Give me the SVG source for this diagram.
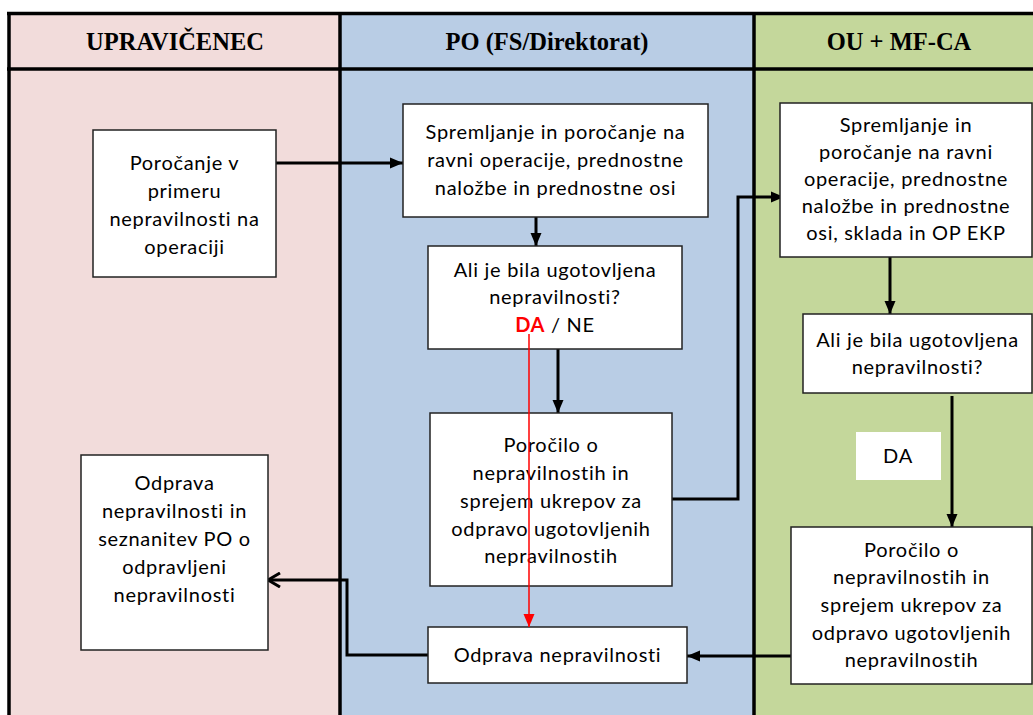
<svg xmlns="http://www.w3.org/2000/svg" width="1033" height="715" viewBox="0 0 1033 715">
<style>
.hdr{font-family:"Liberation Serif","Times New Roman",serif;font-weight:bold;font-size:24.5px;text-anchor:middle;fill:#000}
.box{fill:#fff;stroke:#222;stroke-width:1.5}
.t{font-family:Lato,"Open Sans",sans-serif;font-size:20px;letter-spacing:0.7px;text-anchor:middle;fill:#000}
.c{fill:none;stroke:#000;stroke-width:3}
.r{fill:none;stroke:#ff0000;stroke-width:1.5}
.lane{stroke:none}
.frame{stroke:#000;stroke-width:3.5;fill:none}
</style>
<defs>
<marker id="ah" markerUnits="userSpaceOnUse" markerWidth="14" markerHeight="14" viewBox="0 0 14 14" refX="13" refY="7" orient="auto">
<path d="M0,1.5 L13,7 L0,12.5 Z" fill="#000"/>
</marker>
<marker id="ahr" markerUnits="userSpaceOnUse" markerWidth="14" markerHeight="14" viewBox="0 0 14 14" refX="13" refY="7" orient="auto">
<path d="M0,1.5 L13,7 L0,12.5 Z" fill="#ff0000"/>
</marker>
<marker id="aho" markerUnits="userSpaceOnUse" markerWidth="16" markerHeight="16" viewBox="0 0 16 16" refX="14" refY="8" orient="auto">
<path d="M2,1 L14,8 L2,15" fill="none" stroke="#000" stroke-width="3"/>
</marker>
</defs>
<rect x="0" y="0" width="1033" height="715" fill="#fff"/>
<g id="lanes">
<rect class="lane" x="9" y="13" width="331" height="702" fill="#F2DCDB"/>
<rect class="lane" x="340" y="13" width="414" height="702" fill="#B9CDE5"/>
<rect class="lane" x="754" y="13" width="290" height="702" fill="#C4D79B"/>
<line class="frame" x1="7" y1="13.5" x2="1033" y2="13.5"/>
<line class="frame" x1="7" y1="69" x2="1033" y2="69"/>
<line class="frame" x1="9" y1="12" x2="9" y2="715"/>
<line class="frame" x1="340" y1="12" x2="340" y2="715"/>
<line class="frame" x1="754" y1="12" x2="754" y2="715"/>
<text class="hdr" x="175" y="50">UPRAVIČENEC</text>
<text class="hdr" x="547" y="50">PO (FS/Direktorat)</text>
<text class="hdr" x="899" y="50">OU + MF-CA</text>
</g>
<g id="connectors">
<line class="c" x1="276" y1="163" x2="403" y2="163" marker-end="url(#ah)"/>
<line class="c" x1="536" y1="217" x2="536" y2="246" marker-end="url(#ah)"/>
<line class="c" x1="558" y1="349" x2="558" y2="413" marker-end="url(#ah)"/>
<polyline class="c" points="672,499 738,499 738,197 784,197" marker-end="url(#ah)"/>
<line class="c" x1="890" y1="257" x2="890" y2="314" marker-end="url(#ah)"/>
<line class="c" x1="952" y1="396" x2="952" y2="527" marker-end="url(#ah)"/>
<line class="c" x1="791" y1="656" x2="687" y2="656" marker-end="url(#ah)"/>
<polyline class="c" points="428,655 347,655 347,580 268,580" marker-end="url(#aho)"/>
</g>
<g id="n1">
<rect class="box" x="93" y="130" width="183" height="147"/>
<text class="t" x="184.5" y="170">Poročanje v</text>
<text class="t" x="184.5" y="198">primeru</text>
<text class="t" x="184.5" y="226">nepravilnosti na</text>
<text class="t" x="184.5" y="254">operaciji</text>
</g>
<g id="n2">
<rect class="box" x="403" y="104" width="305" height="113"/>
<text class="t" x="555.5" y="139">Spremljanje in poročanje na</text>
<text class="t" x="555.5" y="167">ravni operacije, prednostne</text>
<text class="t" x="555.5" y="195">naložbe in prednostne osi</text>
</g>
<g id="n3">
<rect class="box" x="428" y="246" width="254" height="103"/>
<text class="t" x="555" y="277">Ali je bila ugotovljena</text>
<text class="t" x="555" y="304">nepravilnosti?</text>
<text class="t" x="555" y="332"><tspan fill="#ff0000" font-weight="bold">DA</tspan> / NE</text>
</g>
<g id="n4">
<rect class="box" x="430" y="413" width="242" height="173"/>
<text class="t" x="551" y="452">Poročilo o</text>
<text class="t" x="551" y="480">nepravilnostih in</text>
<text class="t" x="551" y="508">sprejem ukrepov za</text>
<text class="t" x="551" y="536">odpravo ugotovljenih</text>
<text class="t" x="551" y="563">nepravilnostih</text>
</g>
<g id="n5">
<rect class="box" x="428" y="627" width="259" height="56"/>
<text class="t" x="557.5" y="662">Odprava nepravilnosti</text>
</g>
<g id="n6">
<rect class="box" x="81" y="455" width="187" height="195"/>
<text class="t" x="174.5" y="490">Odprava</text>
<text class="t" x="174.5" y="518">nepravilnosti in</text>
<text class="t" x="174.5" y="546">seznanitev PO o</text>
<text class="t" x="174.5" y="574">odpravljeni</text>
<text class="t" x="174.5" y="602">nepravilnosti</text>
</g>
<g id="n7">
<rect class="box" x="780" y="103" width="252" height="154"/>
<text class="t" x="906" y="132">Spremljanje in</text>
<text class="t" x="906" y="159">poročanje na ravni</text>
<text class="t" x="906" y="186">operacije, prednostne</text>
<text class="t" x="906" y="213">naložbe in prednostne</text>
<text class="t" x="906" y="240">osi, sklada in OP EKP</text>
</g>
<g id="n8">
<rect class="box" x="803" y="314" width="229" height="79"/>
<text class="t" x="917.5" y="347">Ali je bila ugotovljena</text>
<text class="t" x="917.5" y="374">nepravilnosti?</text>
</g>
<g id="n9">
<rect x="856" y="432" width="85" height="48" fill="#fff"/>
<text class="t" x="898" y="463">DA</text>
</g>
<g id="n10">
<rect class="box" x="791" y="527" width="241" height="157"/>
<text class="t" x="911.5" y="557">Poročilo o</text>
<text class="t" x="911.5" y="584">nepravilnostih in</text>
<text class="t" x="911.5" y="612">sprejem ukrepov za</text>
<text class="t" x="911.5" y="640">odpravo ugotovljenih</text>
<text class="t" x="911.5" y="667">nepravilnostih</text>
</g>
<g id="connector-red">
<line class="r" x1="529" y1="334" x2="529" y2="627" marker-end="url(#ahr)"/>
</g>
</svg>
